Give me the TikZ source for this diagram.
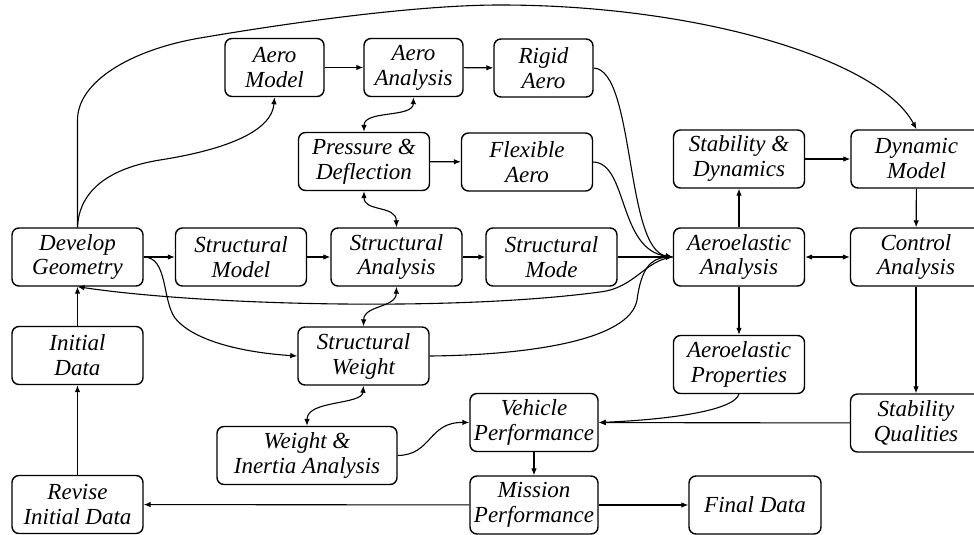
\documentclass[tikz,border=0pt]{standalone}
\usepackage{fontspec}
\setmainfont{Liberation Serif}
\usetikzlibrary{arrows.meta}
\begin{document}
\begin{tikzpicture}[x=0.5pt,y=-0.5pt,
  box/.style={draw, line width=0.7pt, rounded corners=3.5pt, align=center,
    minimum width=65.5pt, minimum height=29pt, inner sep=1pt,
    font=\itshape\fontsize{11.5}{12.5}\selectfont},
  con/.style={line width=0.55pt, -{Latex[length=3.5pt,width=2.8pt]}},
  dcon/.style={line width=0.55pt, {Latex[length=3.5pt,width=2.8pt]}-{Latex[length=3.5pt,width=2.8pt]}}]
\useasboundingbox (0,0) rectangle (974,535);
% nodes
\node[box, minimum width=49.5pt] (am) at (274.5,67.5) {Aero\\Model};
\node[box, minimum width=49.5pt] (aa) at (413.5,67.5) {Aero\\Analysis};
\node[box, minimum width=49.5pt] (ra) at (543.5,68) {Rigid\\Aero};
\node[box] (pd) at (364,161.5) {Pressure \&\\Deflection};
\node[box] (fa) at (527,162) {Flexible\\Aero};
\node[box] (sd) at (739,159) {Stability \&\\Dynamics};
\node[box] (dm) at (916.5,159) {Dynamic\\Model};
\node[box] (dg) at (77.5,257) {Develop\\Geometry};
\node[box] (sm) at (241,257) {Structural\\Model};
\node[box] (sa) at (396.5,257) {Structural\\Analysis};
\node[box] (smo) at (551.5,257) {Structural\\Mode};
\node[box] (ae) at (739,257) {Aeroelastic\\Analysis};
\node[box] (ca) at (916,257) {Control\\Analysis};
\node[box] (id) at (77.5,355.5) {Initial\\Data};
\node[box] (sw) at (363.5,356) {Structural\\Weight};
\node[box] (ap) at (739,364.5) {Aeroelastic\\Properties};
\node[box] (sq) at (916,423) {Stability\\Qualities};
\node[box, minimum width=64pt] (vp) at (534,422.5) {Vehicle\\Performance};
\node[box, minimum width=90pt] (wi) at (307,455.5) {Weight \&\\Inertia Analysis};
\node[box] (rid) at (77.5,504.5) {Revise\\Initial Data};
\node[box, minimum width=64pt] (mp) at (534,505) {Mission\\Performance};
\node[box, minimum width=66pt] (fd) at (755,505) {Final Data};
% connectors
\draw[con] (dg.north) -- (77.5,120) .. controls (77.5,82) and (130,50) .. (200,38)
  .. controls (300,21) and (420,5) .. (500,5) .. controls (700,5) and (880,60) .. (dm.north);
\draw[con] (dg.north) .. controls (79,190) and (110,168) .. (160,160)
  .. controls (230,149) and (272,130) .. (am.south);
\draw[con] (am) -- (aa);
\draw[con] (aa) -- (ra);
\draw[dcon] (aa.south) .. controls (413,118) and (364,110) .. (pd.north);
\draw[con] (pd) -- (fa);
\draw[dcon] (pd.south) .. controls (364,212) and (396,205) .. (sa.north);
\draw[con] (ra.east) .. controls (635,70) and (625,250) .. (ae.west);
\draw[con] (fa.east) .. controls (628,163) and (618,250) .. (ae.west);
\draw[con] (dg) -- (sm);
\draw[con] (sm) -- (sa);
\draw[con] (sa) -- (smo);
\draw[con] (smo) -- (ae);
\draw[con] (ae.west) .. controls (645,260) and (635,288) .. (600,292)
  .. controls (450,312) and (200,305) .. (dg.south);
\draw[con] (sw.east) .. controls (530,355) and (630,340) .. (637,300)
  .. controls (641,270) and (650,258) .. (ae.west);
\draw[con] (dg.east) .. controls (168,257) and (162,300) .. (175,318)
  .. controls (195,343) and (250,353) .. (sw.west);
\draw[dcon] (sa.south) .. controls (396,308) and (364,305) .. (sw.north);
\draw[dcon] (sw.south) .. controls (362,405) and (307,400) .. (wi.north);
\draw[con] (wi.east) .. controls (432,455) and (428,422) .. (vp.west);
\draw[con] (ae) -- (sd);
\draw[con] (sd) -- (dm);
\draw[con] (dm) -- (ca);
\draw[dcon] (ae) -- (ca);
\draw[con] (ae) -- (ap);
\draw[con] (ca.south) -- (sq.north);
\draw[con] (sq) -- (vp);
\draw[con] (ap.south) .. controls (733,412) and (660,420) .. (vp.east);
\draw[con] (vp) -- (mp);
\draw[con] (mp) -- (fd);
\draw[con] (mp) -- (rid);
\draw[con] (rid) -- (id);
\draw[con] (id) -- (dg);
\end{tikzpicture}
\end{document}
